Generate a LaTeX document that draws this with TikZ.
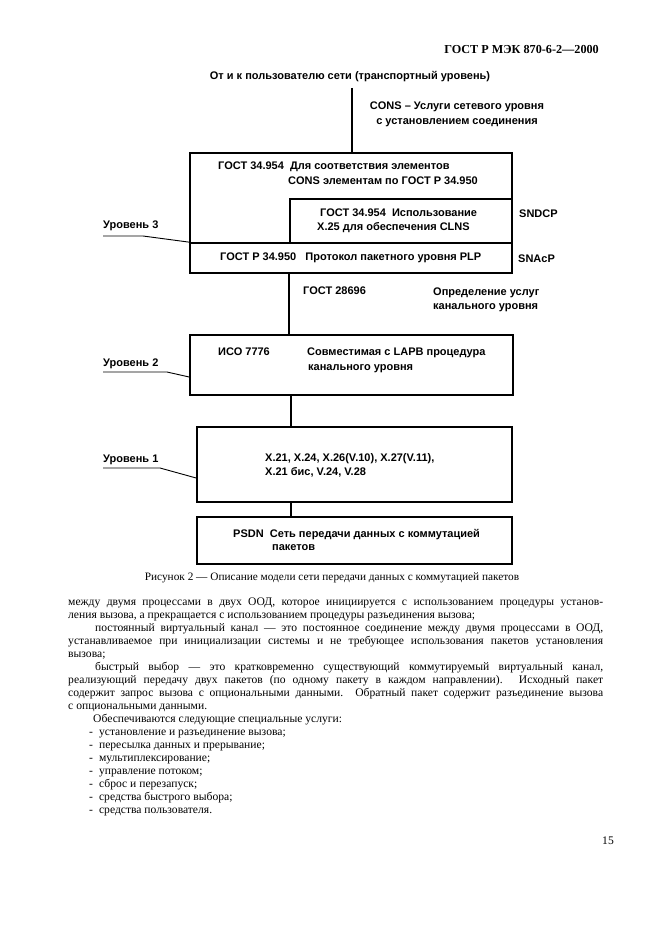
\documentclass[tikz,border=0pt]{standalone}
\usepackage{fontspec}
\setmainfont{Liberation Serif}
\newfontfamily\dsans{Liberation Sans}
\begin{document}
\begin{tikzpicture}[x=1pt,y=-1pt,
  dtext/.style={font=\dsans\bfseries\fontsize{11}{14}\selectfont, inner sep=0pt, anchor=west, align=left},
  blk/.style={draw, line width=1.7pt, inner sep=0pt},
  conn/.style={line width=1.5pt},
  lvline/.style={line width=0.9pt},
  body/.style={font=\fontsize{11.6}{13}\selectfont, inner sep=0pt, align=left}]
\useasboundingbox[fill=white] (0,0) rectangle (661,936);

% header
\node[anchor=east, inner sep=0pt, font=\bfseries\fontsize{12.2}{13}\selectfont] (hdr) at (599,50) {ГОСТ Р МЭК 870-6-2—2000};

% top texts
\node[dtext, anchor=center] (user) at (350,77) {От и к пользователю сети (транспортный уровень)};
\node[dtext, anchor=center, align=center, font=\dsans\bfseries\fontsize{11}{15}\selectfont] (cons) at (457,114) {CONS – Услуги сетевого уровня\\с установлением соединения};

% boxes
\node[blk, minimum width=322pt, minimum height=120pt] (b3) at (351,213) {};
\node[blk, minimum width=222pt, minimum height=44pt] (sndcp) at (401,221) {};
\node[blk, minimum width=322pt, minimum height=30pt] (plp) at (351,258) {};
\node[blk, minimum width=323pt, minimum height=60pt] (b2) at (351.5,365) {};
\node[blk, minimum width=315pt, minimum height=75pt] (b1) at (354.5,464.5) {};
\node[blk, minimum width=315pt, minimum height=47pt] (b0) at (354.5,540.5) {};

% connectors
\coordinate (top) at (352,88);
\draw[conn] (top) -- (top |- b3.north);
\draw[conn] (plp.south -| sndcp.west) -- (sndcp.west |- b2.north);
\coordinate (c12) at (291,400);
\draw[conn] (c12 |- b2.south) -- (c12 |- b1.north);
\draw[conn] (c12 |- b1.south) -- (c12 |- b0.north);

% box texts
\node[dtext] (t31) at (218,167) {ГОСТ 34.954\ \ Для соответствия элементов};
\node[dtext] (t32) at (288,181) {CONS элементам по ГОСТ Р 34.950};
\node[dtext] (t41) at (320,213) {ГОСТ 34.954\ \ Использование};
\node[dtext] (t42) at (317,228) {X.25 для обеспечения CLNS};
\node[dtext] (sn1) at (519,214) {SNDCP};
\node[dtext] (t5) at (220,258) {ГОСТ Р 34.950\ \ \ Протокол пакетного уровня PLP};
\node[dtext] (sn2) at (518,259) {SNAcP};
\node[dtext] (g28) at (303,291) {ГОСТ 28696};
\node[dtext] (opr) at (433,300) {Определение услуг\\канального уровня};
\node[dtext, anchor=base west] (iso) at (218,355) {ИСО 7776};
\node[dtext, anchor=base west] (lapb1) at (307,355) {Совместимая с LAPB процедура};
\node[dtext, anchor=base west] (lapb2) at (308,370) {канального уровня};
\node[dtext] (xx) at (265,465) {X.21, X.24, X.26(V.10), X.27(V.11),\\X.21 бис, V.24, V.28};
\node[dtext] (psdn1) at (233,535) {PSDN\ \ Сеть передачи данных с коммутацией};
\node[dtext] (psdn2) at (272,548) {пакетов};

% level labels
\node[dtext] (lv3) at (103,226) {Уровень 3};
\coordinate (l3) at (103,236);
\draw[lvline] (l3) -- ++(40,0) -- (b3.west |- plp.north);
\node[dtext] (lv2) at (103,364) {Уровень 2};
\coordinate (l2) at (103,372);
\draw[lvline] (l2) -- ++(64,0) -- ([yshift=-12pt]b2.west);
\node[dtext] (lv1) at (103,460) {Уровень 1};
\coordinate (l1) at (103,468);
\draw[lvline] (l1) -- ++(57,0) -- ([yshift=-13.5pt]b1.west);

% caption
\node[inner sep=0pt, font=\fontsize{11.3}{13}\selectfont] (cap) at (332,578) {Рисунок 2 — Описание модели сети передачи данных с коммутацией пакетов};

% body text
\node[body, anchor=north west] (txt) at (68,598) {%
\makebox[535pt][s]{между двумя процессами в двух ООД, которое инициируется с использованием процедуры установ-}\\
ления вызова, а прекращается с использованием процедуры разъединения вызова;\\
\hspace*{27pt}\makebox[508pt][s]{постоянный виртуальный канал — это постоянное соединение между двумя процессами в ООД,}\\
\makebox[535pt][s]{устанавливаемое при инициализации системы и не требующее использования пакетов установления}\\
вызова;\\
\hspace*{27pt}\makebox[508pt][s]{быстрый выбор — это кратковременно существующий коммутируемый виртуальный канал,}\\
\makebox[535pt][s]{реализующий передачу двух пакетов (по одному пакету в каждом направлении). Исходный пакет}\\
\makebox[535pt][s]{содержит запрос вызова с опциональными данными. Обратный пакет содержит разъединение вызова}\\
с опциональными данными.\\
\hspace*{25pt}Обеспечиваются следующие специальные услуги:\\
\hspace*{21pt}-\hspace{6pt}установление и разъединение вызова;\\
\hspace*{21pt}-\hspace{6pt}пересылка данных и прерывание;\\
\hspace*{21pt}-\hspace{6pt}мультиплексирование;\\
\hspace*{21pt}-\hspace{6pt}управление потоком;\\
\hspace*{21pt}-\hspace{6pt}сброс и перезапуск;\\
\hspace*{21pt}-\hspace{6pt}средства быстрого выбора;\\
\hspace*{21pt}-\hspace{6pt}средства пользователя.};

\node[anchor=east, inner sep=0pt, font=\fontsize{11.6}{13}\selectfont] (pg) at (614,841) {15};
\end{tikzpicture}
\end{document}
